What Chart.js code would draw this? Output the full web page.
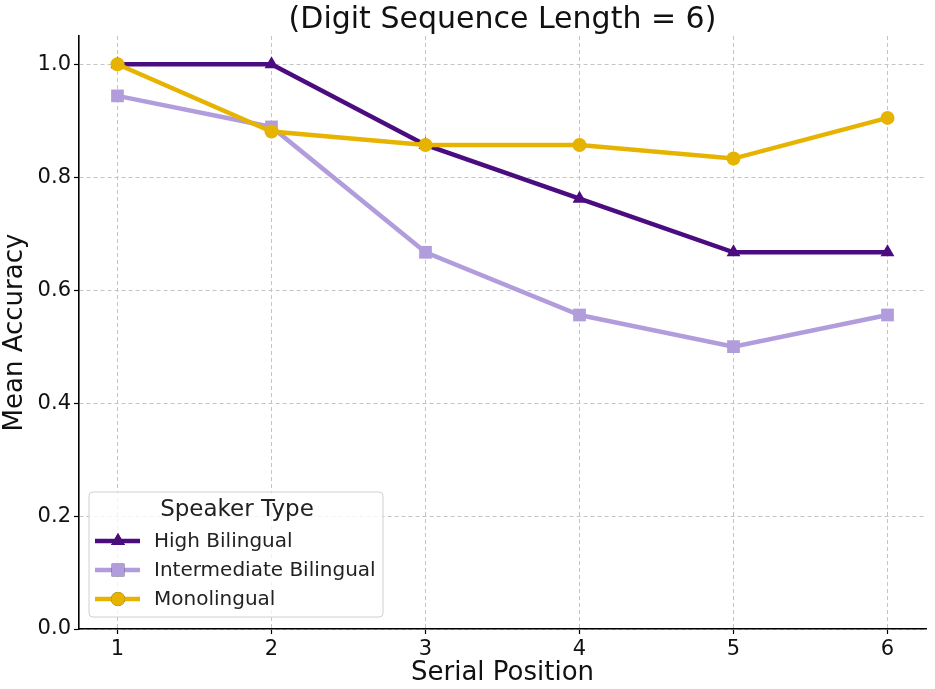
<!DOCTYPE html>
<html>
<head>
<meta charset="utf-8">
<script src="https://cdn.jsdelivr.net/npm/chart.js@4"></script>
<style>
  html, body { margin: 0; padding: 0; background: #fff; }
  #wrap { width: 935px; height: 689px; }
</style>
</head>
<body>
<div id="wrap"><canvas id="chart" width="935" height="689"></canvas></div>
<script>
const positions = [1, 2, 3, 4, 5, 6];
const highBilingual = [1.0, 1.0, 0.857, 0.762, 0.667, 0.667];
const intermediateBilingual = [0.944, 0.889, 0.667, 0.556, 0.5, 0.556];
const monolingual = [1.0, 0.881, 0.857, 0.857, 0.833, 0.905];
const yTicks = [0.0, 0.2, 0.4, 0.6, 0.8, 1.0];

const FONT = "'DejaVu Sans', sans-serif";

function points(values) {
    return values.map((v, i) => ({ x: positions[i], y: v }));
}

const data = {
    datasets: [{
        label: 'High Bilingual',
        data: points(highBilingual),
        borderColor: '#4b0c80',
        backgroundColor: '#4b0c80',
        borderWidth: 4.5,
        pointStyle: 'triangle',
        pointRadius: 8,
        pointBorderWidth: 0,
        order: 3,
    }, {
        label: 'Intermediate Bilingual',
        data: points(intermediateBilingual),
        borderColor: '#b19cdc',
        backgroundColor: '#b19cdc',
        borderWidth: 4.5,
        pointStyle: 'rect',
        pointRadius: 9,
        pointBorderWidth: 0,
        order: 2,
    }, {
        label: 'Monolingual',
        data: points(monolingual),
        borderColor: '#e6b400',
        backgroundColor: '#e6b400',
        borderWidth: 4.5,
        pointStyle: 'circle',
        pointRadius: 7,
        pointBorderWidth: 0,
        order: 1,
    }]
};

// title centred over the plot area, like matplotlib
const plotTitle = {
    id: 'plotTitle',
    afterDraw(chart) {
        const ctx = chart.ctx;
        const area = chart.chartArea;
        ctx.save();
        ctx.fillStyle = '#111';
        ctx.font = '30px ' + FONT;
        ctx.textAlign = 'center';
        ctx.textBaseline = 'alphabetic';
        ctx.fillText('(Digit Sequence Length = 6)', (area.left + area.right) / 2, 28);
        ctx.restore();
    }
};

// legend drawn inside the plot, matplotlib style
const boxLegend = {
    id: 'boxLegend',
    afterDraw(chart) {
        const ctx = chart.ctx;
        const x = 89, y = 492, w = 294, h = 125;
        ctx.save();
        ctx.beginPath();
        ctx.roundRect(x, y, w, h, 4);
        ctx.fillStyle = 'rgba(255,255,255,0.8)';
        ctx.fill();
        ctx.strokeStyle = '#d0d0d0';
        ctx.lineWidth = 1;
        ctx.stroke();

        ctx.fillStyle = '#222';
        ctx.textBaseline = 'middle';
        ctx.textAlign = 'center';
        ctx.font = '23px ' + FONT;
        ctx.fillText('Speaker Type', 237, 510);

        ctx.textAlign = 'left';
        ctx.font = '20px ' + FONT;
        const rows = [541, 570, 599];
        chart.data.datasets.forEach((ds, i) => {
            const ry = rows[i];
            ctx.strokeStyle = ds.borderColor;
            ctx.lineWidth = ds.borderWidth;
            ctx.beginPath();
            ctx.moveTo(95, ry);
            ctx.lineTo(140, ry);
            ctx.stroke();
            Chart.helpers.drawPoint(ctx, {
                pointStyle: ds.pointStyle,
                radius: ds.pointRadius,
                rotation: 0,
                borderWidth: 0
            }, 118, ry);
            ctx.fillStyle = ds.backgroundColor;
            ctx.fill();
            ctx.fillStyle = '#222';
            ctx.fillText(ds.label, 154, ry + 1);
        });
        ctx.restore();
    }
};

const gridStyle = {
    color: '#c4c4c4',
    lineWidth: 1,
    tickColor: '#000',
    tickLength: 5,
    tickWidth: 1.2,
    tickBorderDash: [],
};

const config = {
    type: 'line',
    data: data,
    options: {
        responsive: false,
        animation: false,
        layout: { padding: { left: 0, right: 5, top: 36, bottom: 0 } },
        plugins: {
            legend: { display: false },
            tooltip: { enabled: false },
            title: { display: false },
        },
        scales: {
            x: {
                type: 'linear',
                min: 0.75,
                max: 6.25,
                afterBuildTicks: axis => { axis.ticks = positions.map(v => ({ value: v })); },
                afterFit: axis => { axis.height = 60; },
                ticks: {
                    color: '#111',
                    font: { family: FONT, size: 21 },
                    padding: 3,
                    maxRotation: 0,
                },
                grid: gridStyle,
                border: { display: true, color: '#000', width: 1.6, dash: [4, 3] },
                title: {
                    display: true,
                    text: 'Serial Position',
                    color: '#111',
                    font: { family: FONT, size: 26 },
                    padding: { top: 4, bottom: 0 },
                },
            },
            y: {
                min: 0,
                max: 1.05,
                afterBuildTicks: axis => { axis.ticks = yTicks.map(v => ({ value: v })); },
                afterFit: axis => { axis.width = 79; },
                ticks: {
                    color: '#111',
                    font: { family: FONT, size: 21 },
                    padding: 3,
                    callback: v => v.toFixed(1),
                },
                grid: gridStyle,
                border: { display: true, color: '#000', width: 1.6, dash: [4, 3] },
                title: {
                    display: true,
                    text: 'Mean Accuracy',
                    color: '#111',
                    font: { family: FONT, size: 26 },
                    padding: { top: 0, bottom: 2 },
                },
            },
        },
    },
    plugins: [plotTitle, boxLegend],
};

window.addEventListener('load', function () {
    new Chart(document.getElementById('chart'), config);
});
</script>
</body>
</html>
